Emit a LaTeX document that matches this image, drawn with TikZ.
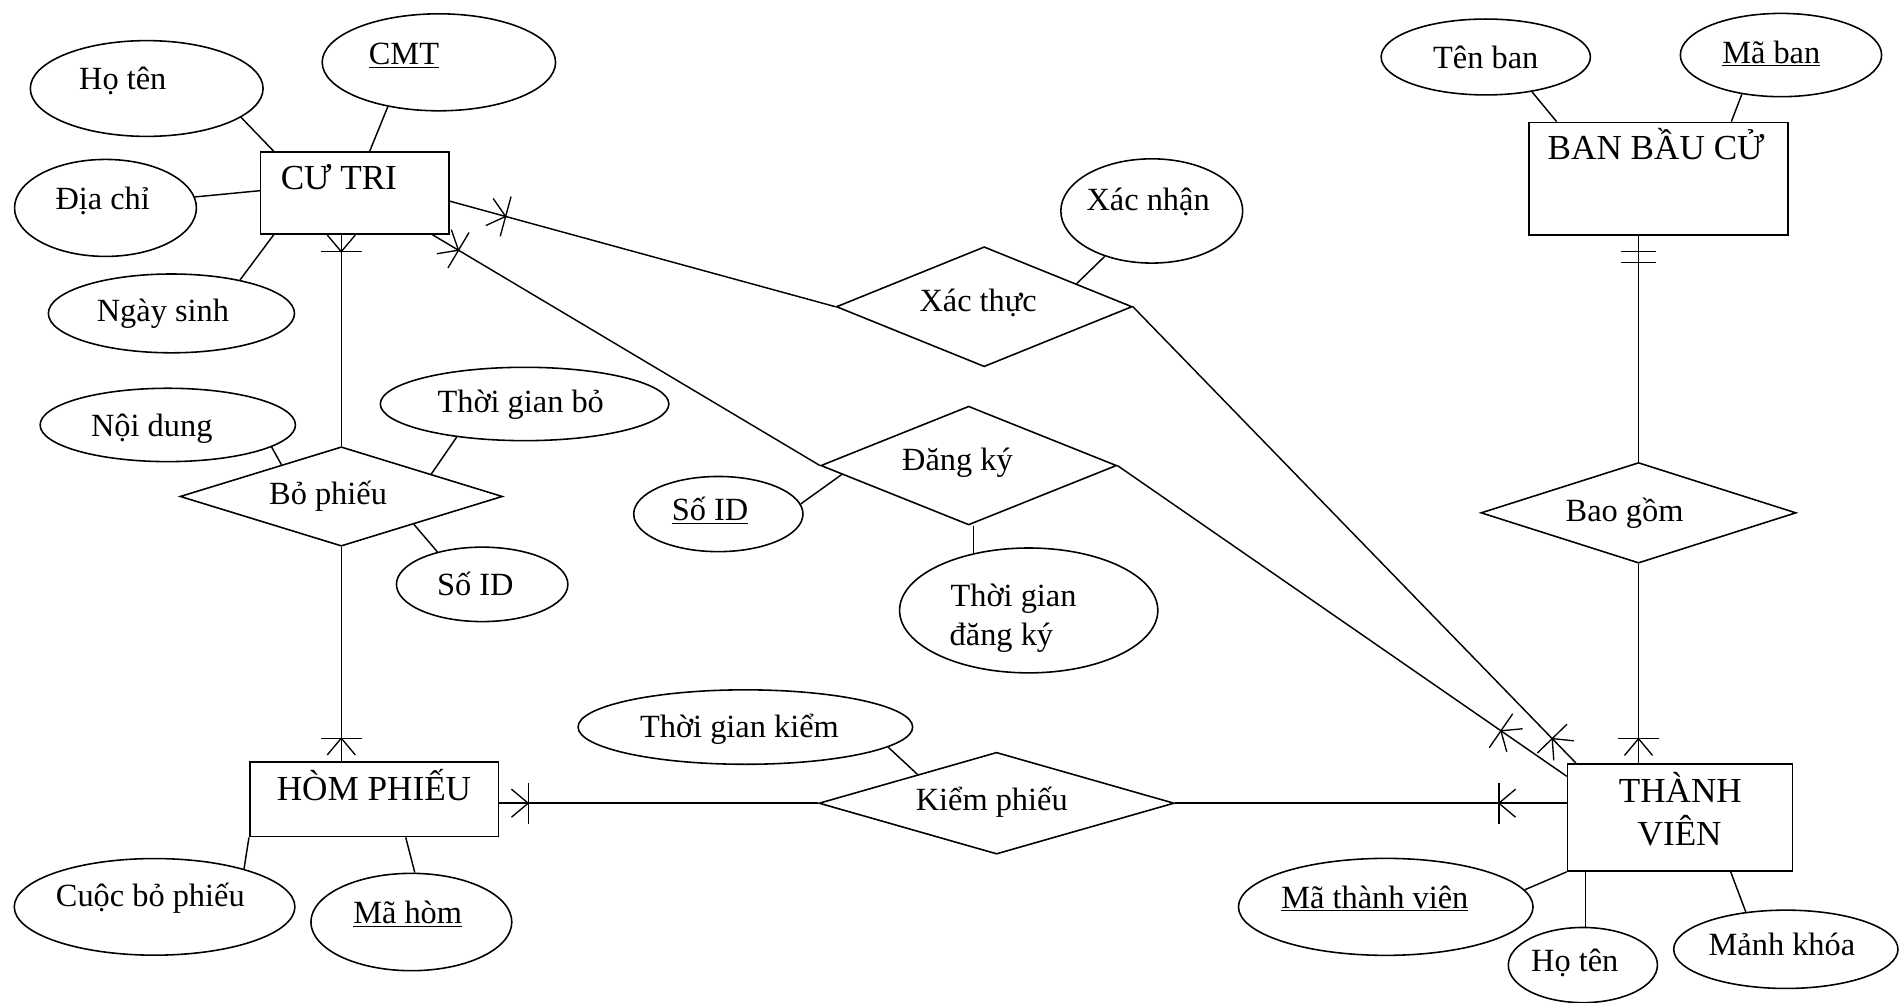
\documentclass[tikz,border=0pt]{standalone}
\usepackage{fontspec}
\setmainfont{Liberation Serif}
\usetikzlibrary{shapes.geometric,calc}

% text placed at an offset (dx, dy in screen px) from the node centre, taking no room
\newcommand\offtext[3]{\raisebox{\dimexpr 0pt-(#2pt)-0.3em\relax}[0pt][0pt]{\makebox[0pt]{\hspace*{#1pt}\hspace*{#1pt}#3}}}

% crow's foot with bar: #1 entity end, #2 far end, #3 distance of junction from entity end
\newcommand\crowfoot[3]{%
  \coordinate (cfJ) at ($(#1)!#3pt!(#2)$);
  \draw[crow] ($(cfJ)!18pt!40:(#1)$) -- (cfJ) -- ($(cfJ)!18pt!-40:(#1)$);
  \draw[crow] ($(cfJ)!17pt!90:(#1)$) -- ($(cfJ)!17pt!-90:(#1)$);
}

\tikzset{
  ent/.style={draw, rectangle, inner sep=0pt, line width=1.3pt, font=\fontsize{29}{34}\selectfont},
  attr/.style={draw, ellipse, inner sep=0pt, line width=1.3pt, font=\fontsize{26.7}{32}\selectfont},
  rel/.style={draw, diamond, inner sep=0pt, aspect=2.8, line width=1.3pt, font=\fontsize{26.7}{32}\selectfont},
  conn/.style={line width=1.2pt},
  crow/.style={line width=1.1pt},
}

\begin{document}
\begin{tikzpicture}[x=1pt, y=-1pt]
\useasboundingbox[fill=white] (0,0) rectangle (1568,827);

% ---------- entities ----------
\node[ent, minimum width=155.5pt, minimum height=67.5pt] (cutri) at (292.7,159.2) {\offtext{-13.2}{-11.4}{CƯ TRI}};
\node[ent, minimum width=214pt, minimum height=93pt] (banbau) at (1368,147.5) {\offtext{-2}{-24.9}{BAN BẦU CỬ}};
\node[ent, minimum width=205pt, minimum height=61.5pt] (hom) at (308.5,659.3) {\offtext{0}{-7.4}{HÒM PHIẾU}};
\node[ent, minimum width=185.5pt, minimum height=88.5pt] (tv) at (1385.7,674.2) {\offtext{0.3}{-20.8}{THÀNH}\offtext{-0.3}{14.5}{VIÊN}};

% ---------- relationships ----------
\node[rel, minimum width=244pt, minimum height=99pt] (xacthuc) at (811.8,253) {\offtext{-5}{-4}{Xác thực}};
\node[rel, minimum width=244pt, minimum height=98pt] (dangky) at (799,384) {\offtext{-9.3}{-4.3}{Đăng ký}};
\node[rel, minimum width=266pt, minimum height=82pt] (bophieu) at (281.5,409.5) {\offtext{-10.9}{-1}{Bỏ phiếu}};
\node[rel, minimum width=260pt, minimum height=83pt] (baogom) at (1351.5,423) {\offtext{-11.5}{-0.6}{Bao gồm}};
\node[rel, minimum width=293pt, minimum height=84pt] (kiemphieu) at (822,662.5) {\offtext{-4}{-1.9}{Kiểm phiếu}};

% ---------- attributes ----------
\node[attr, minimum width=192pt, minimum height=79pt] (hoten) at (121,73) {\offtext{-19.7}{-6.8}{Họ tên}};
\node[attr, minimum width=192.5pt, minimum height=80pt] (cmt) at (362,51.4) {\offtext{-28.8}{-5.8}{\underline{CMT}}};
\node[attr, minimum width=150pt, minimum height=80pt] (diachi) at (87,171.5) {\offtext{-2.3}{-6.9}{Địa chỉ}};
\node[attr, minimum width=203pt, minimum height=65pt] (ngaysinh) at (141.4,258.5) {\offtext{-7}{-1.2}{Ngày sinh}};
\node[attr, minimum width=172.6pt, minimum height=62.6pt] (tenban) at (1225.5,47) {\offtext{0}{1.2}{Tên ban}};
\node[attr, minimum width=166pt, minimum height=68.7pt] (maban) at (1469,45.4) {\offtext{-8}{-1.3}{\underline{Mã ban}}};
\node[attr, minimum width=150pt, minimum height=86pt] (xacnhan) at (950,174) {\offtext{-3}{-8}{Xác nhận}};
\node[attr, minimum width=210.6pt, minimum height=60.5pt] (noidung) at (138.4,350.5) {\offtext{-13.2}{1.7}{Nội dung}};
\node[attr, minimum width=238pt, minimum height=60.5pt] (tgbo) at (432.7,333.2) {\offtext{-3.2}{-0.8}{Thời gian bỏ}};
\node[attr, minimum width=141.4pt, minimum height=61.4pt] (soidbp) at (397.7,482) {\offtext{-5.6}{0.8}{Số ID}};
\node[attr, minimum width=139.6pt, minimum height=62pt] (soiddk) at (592.5,424) {\offtext{-6.9}{-2.5}{\underline{Số ID}}};
\node[attr, minimum width=213pt, minimum height=103pt] (tgdk) at (848.5,503.5) {\offtext{-12.5}{-11.5}{Thời gian}\offtext{-22.5}{20.5}{đăng ký}};
\node[attr, minimum width=276pt, minimum height=61.4pt] (tgkiem) at (614.8,599.7) {\offtext{-4.9}{0.5}{Thời gian kiểm}};
\node[attr, minimum width=231.5pt, minimum height=79.7pt] (cuocbp) at (127.5,748) {\offtext{-3.5}{-8.2}{Cuộc bỏ phiếu}};
\node[attr, minimum width=165.7pt, minimum height=80.3pt] (mahom) at (339.3,760.5) {\offtext{-3}{-6.4}{\underline{Mã hòm}}};
\node[attr, minimum width=243pt, minimum height=80pt] (matv) at (1143,748) {\offtext{-9}{-6.8}{\underline{Mã thành viên}}};
\node[attr, minimum width=123pt, minimum height=62pt] (hotentv) at (1305.6,796) {\offtext{-6.7}{-2.6}{Họ tên}};
\node[attr, minimum width=185pt, minimum height=64.6pt] (manhkhoa) at (1473,783) {\offtext{-3.2}{-3.3}{Mảnh khóa}};

% ---------- attribute connectors ----------
\draw[conn] (hoten.-17.6) -- ($(cutri.north west)+(11.5,0)$);
\draw[conn] (cmt.221.4) -- ($(cutri.north west)+(90.6,0)$);
\draw[conn] (diachi.7.1) -- ($(cutri.north west)+(0,32.5)$);
\draw[conn] (ngaysinh.26.7) -- ($(cutri.south west)+(11.5,0)$);
\draw[conn] (tenban.-37.3) -- ($(banbau.north west)+(23.6,0)$);
\draw[conn] (maban.225.3) -- ($(banbau.north west)+(167.7,0)$);
\draw[conn] (noidung.-12.9) -- (bophieu.152);
\draw[conn] (tgbo.206.2) -- (bophieu.14.9);
\draw[conn] (soidbp.144.7) -- (bophieu.-21.1);
\draw[conn] (xacnhan.224.9) -- (xacthuc.14.3);
\draw[conn] (soiddk.7) -- (dangky.184.1);
\draw[conn] (dangky.south -| tgdk.134.3) -- (tgdk.134.3);
\draw[conn] (tgkiem.-8.6) -- (kiemphieu.160);
\draw[conn] (cuocbp.23) -- (hom.south west);
\draw[conn] (mahom.86.3) -- ($(hom.south west)+(129.3,0)$);
\draw[conn] (matv.7.5) -- (tv.south west);
\draw[conn] (hotentv.86) -- (hotentv.86 |- tv.south);
\draw[conn] (manhkhoa.137.2) -- ($(tv.south west)+(135.2,0)$);

% ---------- relationship connectors ----------
\coordinate (c1) at ($(cutri.north west)+(155.5,40.8)$);
\draw[conn] (c1) -- (xacthuc.west);
\crowfoot{c1}{xacthuc.west}{49}

\coordinate (c2) at ($(cutri.south west)+(142.4,0)$);
\draw[conn] (c2) -- (dangky.west);
\crowfoot{c2}{dangky.west}{25}

\coordinate (c3) at (bophieu.north |- cutri.south);
\draw[conn] (c3) -- (bophieu.north);
\crowfoot{c3}{bophieu.north}{14}

\coordinate (c4) at (bophieu.south |- hom.north);
\draw[conn] (bophieu.south) -- (c4);
\crowfoot{c4}{bophieu.south}{19}

\coordinate (c5) at (kiemphieu.west -| hom.east);
\draw[conn] (c5) -- (kiemphieu.west);
\crowfoot{c5}{kiemphieu.west}{24}

\coordinate (c6) at (kiemphieu.east -| tv.west);
\draw[conn] (kiemphieu.east) -- (c6);
\crowfoot{c6}{kiemphieu.east}{56}

\coordinate (c7) at ($(tv.north west)+(7.5,0)$);
\draw[conn] (xacthuc.east) -- (c7);
\crowfoot{c7}{xacthuc.east}{28}

\coordinate (c8) at ($(tv.north west)+(0,11)$);
\draw[conn] (dangky.east) -- (c8);
\crowfoot{c8}{dangky.east}{66}

\coordinate (c9) at (baogom.north |- banbau.south);
\draw[conn] (c9) -- (baogom.north);
\draw[crow] ($(c9)+(-14.4,12.7)$) -- ($(c9)+(14.4,12.7)$);
\draw[crow] ($(c9)+(-14.4,22.1)$) -- ($(c9)+(14.4,22.1)$);

\coordinate (c10) at (baogom.south |- tv.north);
\draw[conn] (baogom.south) -- (c10);
\crowfoot{c10}{baogom.south}{20}
\end{tikzpicture}
\end{document}
